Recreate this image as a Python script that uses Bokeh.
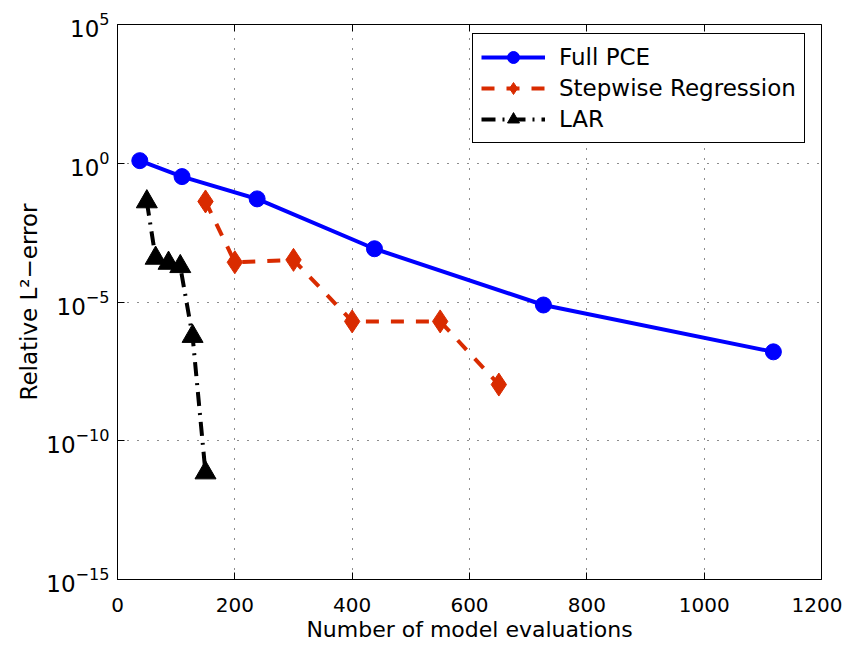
from bokeh.plotting import figure
from bokeh.models import (Range1d, FixedTicker, LinearAxis, LogTickFormatter,
                          Legend, LegendItem, CustomJSTickFormatter)
from bokeh.embed import file_html
from bokeh.resources import INLINE

# ---- data ----
pce_x = [38, 110, 238, 438, 726, 1118]
pce_y = [1.24, 0.33, 0.052, 8.3e-4, 7.8e-6, 1.6e-7]

sw_x = [150, 200, 300, 400, 550, 650]
sw_y = [0.042, 2.7e-4, 3.3e-4, 2.0e-6, 2.0e-6, 1.06e-8]

lar_x = [50, 65, 87, 107, 128, 150]
lar_y = [0.041, 3.8e-4, 2.5e-4, 1.9e-4, 5.8e-7, 7e-12]

x_ticks = [0, 200, 400, 600, 800, 1000, 1200]
y_ticks = [1e-15, 1e-10, 1e-5, 1e0, 1e5]

FONT = "DejaVu Sans"
BLUE = "#0000FF"
RED = "#D92B00"
BLACK = "#000000"

p = figure(width=842, height=644,
           x_range=Range1d(0, 1200), y_range=Range1d(1e-15, 1e5),
           y_axis_type="log", output_backend="svg", toolbar_location=None,
           min_border_left=117, min_border_top=24,
           min_border_right=21, min_border_bottom=64)

p.background_fill_color = "white"
p.border_fill_color = "white"
p.outline_line_color = "black"
p.outline_line_width = 1
p.outline_line_alpha = 1

# axes
xa = p.xaxis[0]
xa.ticker = FixedTicker(ticks=x_ticks)
xa.axis_label = "Number of model evaluations"
ya = p.yaxis[0]
ya.ticker = FixedTicker(ticks=y_ticks)
ya.formatter = LogTickFormatter()
ya.axis_label = "Relative L\u00b2\u2212error"

for ax in (xa, ya):
    ax.axis_line_color = "black"
    ax.major_tick_in = 7
    ax.major_tick_out = 0
    ax.minor_tick_line_color = None
    ax.major_label_text_font = FONT
    ax.major_label_text_color = "black"
    ax.axis_label_text_font = FONT
    ax.axis_label_text_font_style = "normal"
    ax.axis_label_text_color = "black"
xa.major_label_text_font_size = "20px"
xa.axis_label_text_font_size = "22px"
ya.major_label_text_font_size = "23px"
ya.axis_label_text_font_size = "23px"
xa.major_label_standoff = 18
xa.axis_label_standoff = 2
ya.major_label_standoff = 8
ya.axis_label_standoff = 1

# mirrored ticks on top (no labels)
top = LinearAxis(ticker=FixedTicker(ticks=x_ticks), formatter=CustomJSTickFormatter(code="return ''"),
                 axis_line_color=None, major_tick_in=7, major_tick_out=0,
                 minor_tick_line_color=None, major_label_standoff=0,
                 major_label_text_font_size="2px")
p.add_layout(top, "above")

# grid
for g in (p.xgrid[0], p.ygrid[0]):
    g.grid_line_color = "black"
    g.grid_line_dash = "1 9"
    g.grid_line_width = 1
    g.grid_line_alpha = 0.9
p.xgrid[0].ticker = FixedTicker(ticks=x_ticks)
p.ygrid[0].ticker = FixedTicker(ticks=y_ticks)

# series
l1 = p.line(pce_x, pce_y, line_color=BLUE, line_width=4)
s1 = p.scatter(pce_x, pce_y, marker="circle", size=16, fill_color=BLUE, line_color=BLUE)

l2 = p.line(sw_x, sw_y, line_color=RED, line_width=4, line_dash="13 12")
s2 = p.scatter(sw_x, sw_y, marker="diamond", size=23, fill_color=RED, line_color=RED)

l3 = p.line(lar_x, lar_y, line_color=BLACK, line_width=4, line_dash="14 7 2 7")
s3 = p.scatter(lar_x, lar_y, marker="triangle", size=21, fill_color=BLACK, line_color=BLACK)

legend = Legend(items=[
    LegendItem(label="Full PCE", renderers=[l1, s1]),
    LegendItem(label="Stepwise Regression", renderers=[l2, s2]),
    LegendItem(label="LAR", renderers=[l3, s3]),
])
legend.location = (355, 436)
legend.label_text_font = FONT
legend.label_text_font_size = "23px"
legend.label_text_color = "black"
legend.glyph_width = 64
legend.glyph_height = 30
legend.label_height = 30
legend.label_standoff = 14
legend.spacing = 1
legend.padding = 8
legend.margin = 0
legend.border_line_color = "black"
legend.border_line_width = 1
legend.border_line_alpha = 1
legend.background_fill_color = "white"
legend.background_fill_alpha = 1
p.add_layout(legend)

open("out.html", "w").write(file_html(p, INLINE))
